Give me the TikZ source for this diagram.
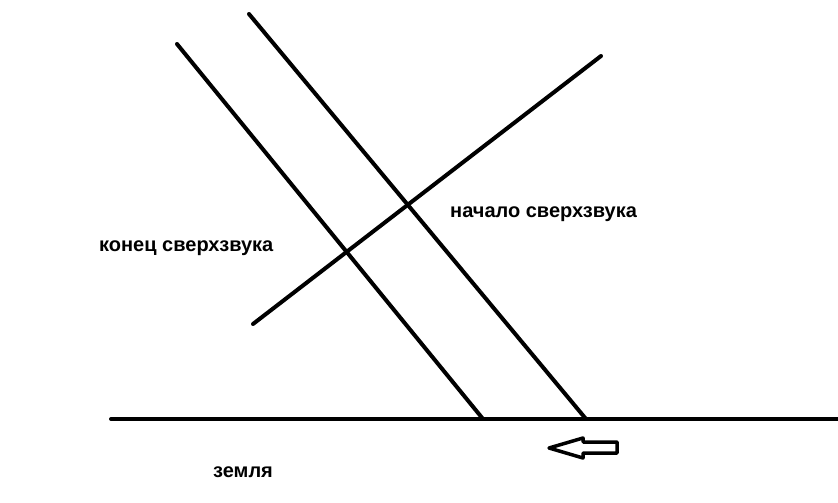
\documentclass[tikz,border=0pt]{standalone}
\usepackage{fontspec}
\setmainfont{Liberation Sans}
\usepackage{tikz}
\usetikzlibrary{positioning}

\begin{document}
\begin{tikzpicture}[x=1pt, y=-1pt,
    wave/.style={line width=4pt, line cap=round},
    label/.style={font=\bfseries\fontsize{20}{24}\selectfont, inner sep=0pt, anchor=base west}]
    \useasboundingbox (0,0) rectangle (838,503);

    % end points of the lines
    \coordinate (gL) at (111,419);
    \coordinate (gR) at (838,419);
    \coordinate (a1) at (177,44);
    \coordinate (a2) at (483,419);
    \coordinate (b1) at (249,14);
    \coordinate (b2) at (586,419);
    \coordinate (c1) at (253,324);
    \coordinate (c2) at (601,56);

    \draw[wave] (gL) -- (gR);
    \draw[wave] (a1) -- (a2);
    \draw[wave] (b1) -- (b2);
    \draw[wave] (c1) -- (c2);

    % hollow arrow under the ground
    \draw[line width=3.5pt, line join=round] (549,448) -- (583,438) -- (583,442) -- (617,442)
        -- (617,453) -- (583,453) -- (583,458) -- cycle;

    \node[label] (konec) at (99,251) {конец сверхзвука};
    \node[label] (nachalo) at (450,217) {начало сверхзвука};
    \node[label] (zemlya) at (213,477) {земля};
\end{tikzpicture}
\end{document}
